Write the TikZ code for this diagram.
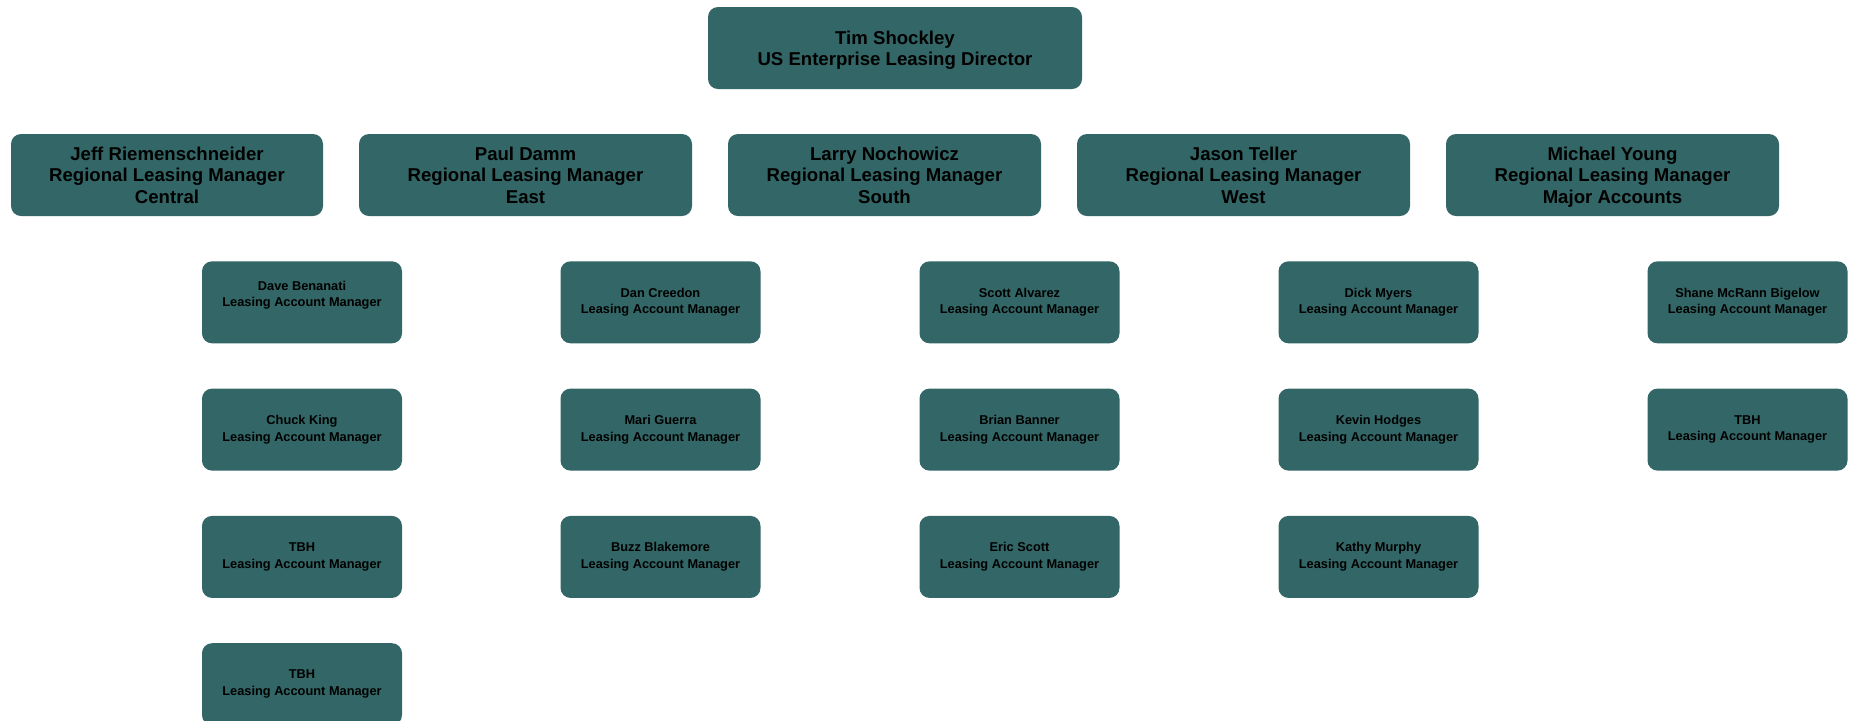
\documentclass[tikz,border=0pt]{standalone}
\usepackage{fontspec}
\setmainfont{Liberation Sans}
\usetikzlibrary{positioning}
\definecolor{boxteal}{RGB}{51,102,102}

\begin{document}
\begin{tikzpicture}[x=0.5pt,y=-0.5pt,node distance=22.25pt and 17.6pt,
	box/.style={fill=boxteal,rounded corners=5pt,inner sep=0pt,align=center},
	director/.style={box,minimum width=187pt,minimum height=41pt,text depth=0pt,font=\bfseries\fontsize{9.3}{10.7}\selectfont},
	rlm/.style={box,minimum width=#1,minimum height=41pt,text depth=0pt,font=\bfseries\fontsize{9.3}{10.7}\selectfont},
	rlm/.default=166.5pt,
	lam/.style={box,minimum width=100pt,minimum height=41pt,font=\bfseries\fontsize{6.4}{8.3}\selectfont}]
	\useasboundingbox (0,0) rectangle (1849,720);
	% director
	\node[director] (tim) at (895,48) {Tim Shockley\\US Enterprise Leasing Director};
	% regional leasing managers
	\node[rlm=156pt] (jeff) at (167,175) {Jeff Riemenschneider\\Regional Leasing Manager\\Central};
	\node[rlm] (paul) [right=of jeff] {Paul Damm\\Regional Leasing Manager\\East};
	\node[rlm=156.5pt] (larry) [right=of paul] {Larry Nochowicz\\Regional Leasing Manager\\South};
	\node[rlm] (jason) [right=of larry] {Jason Teller\\Regional Leasing Manager\\West};
	\node[rlm] (michael) [right=of jason] {Michael Young\\Regional Leasing Manager\\Major Accounts};
	% leasing account managers
	\node[lam] (dave) [below=of jeff, xshift=67.5pt] {Dave Benanati\\Leasing Account Manager\\\mbox{}};
	\node[lam] (chuck) [below=of dave] {Chuck King\\Leasing Account Manager};
	\node[lam] (tbhA) [below=of chuck] {TBH\\Leasing Account Manager};
	\node[lam] (tbhB) [below=of tbhA] {TBH\\Leasing Account Manager};

	\node[lam] (dan) [below=of paul, xshift=67.5pt] {Dan Creedon\\Leasing Account Manager};
	\node[lam] (mari) [below=of dan] {Mari Guerra\\Leasing Account Manager};
	\node[lam] (buzz) [below=of mari] {Buzz Blakemore\\Leasing Account Manager};

	\node[lam] (scott) [below=of larry, xshift=67.5pt] {Scott Alvarez\\Leasing Account Manager};
	\node[lam] (brian) [below=of scott] {Brian Banner\\Leasing Account Manager};
	\node[lam] (eric) [below=of brian] {Eric Scott\\Leasing Account Manager};

	\node[lam] (dick) [below=of jason, xshift=67.5pt] {Dick Myers\\Leasing Account Manager};
	\node[lam] (kevin) [below=of dick] {Kevin Hodges\\Leasing Account Manager};
	\node[lam] (kathy) [below=of kevin] {Kathy Murphy\\Leasing Account Manager};

	\node[lam] (shane) [below=of michael, xshift=67.5pt] {Shane McRann Bigelow\\Leasing Account Manager};
	\node[lam] (tbhC) [below=of shane] {TBH\\Leasing Account Manager};
\end{tikzpicture}
\end{document}
